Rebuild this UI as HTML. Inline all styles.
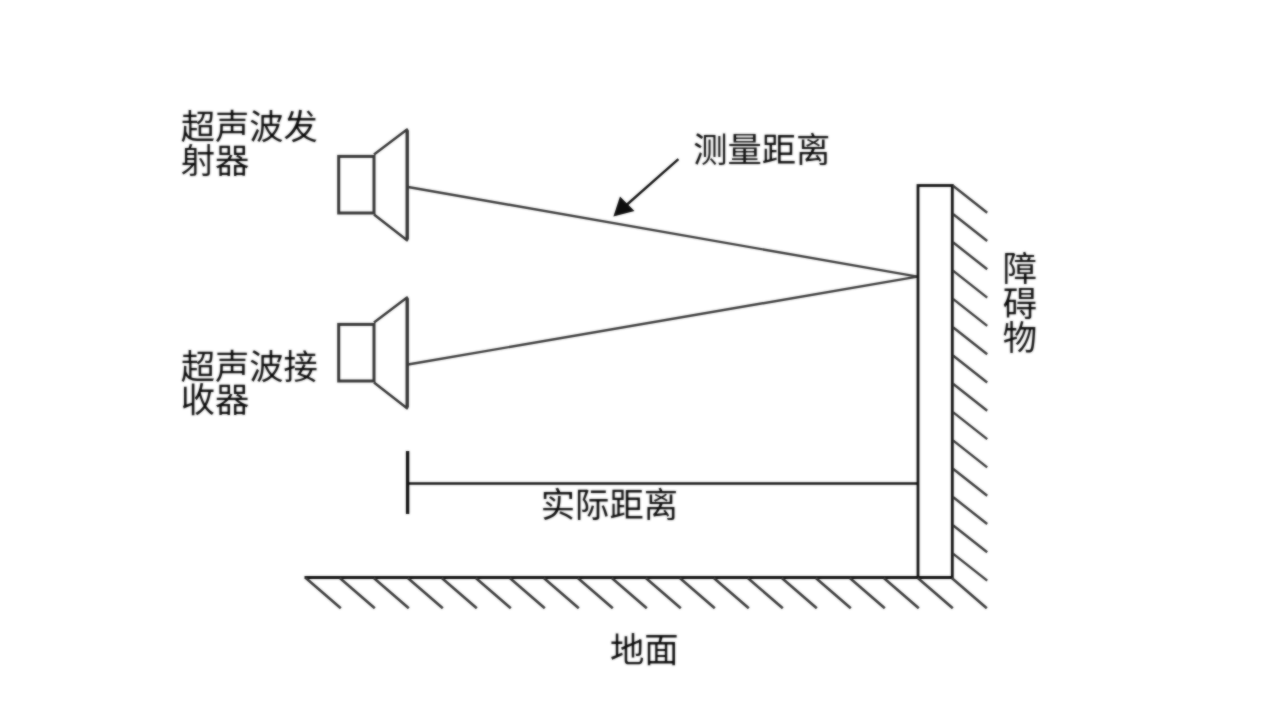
<!DOCTYPE html>
<html lang="zh-CN">
<head>
<meta charset="utf-8">
<title>超声波测距原理</title>
<style>
html,body{margin:0;padding:0;background:#fff;}
body{width:1281px;height:715px;overflow:hidden;font-family:"Liberation Sans","Noto Sans CJK SC",sans-serif;}
svg{display:block;position:absolute;left:0;top:0;}
svg text{font-family:"Liberation Sans","Noto Sans CJK SC",sans-serif;}
</style>
</head>
<body>
<svg xmlns="http://www.w3.org/2000/svg" width="1281" height="715" viewBox="0 0 1281 715">
<defs>
<filter id="soft" x="-5%" y="-5%" width="110%" height="110%" color-interpolation-filters="sRGB"><feGaussianBlur in="SourceGraphic" stdDeviation="0.9" result="b"/><feComposite in="b" in2="SourceGraphic" operator="arithmetic" k1="0" k2="0.6" k3="0.4" k4="0"/></filter>
<filter id="softt" x="-5%" y="-5%" width="110%" height="110%" color-interpolation-filters="sRGB"><feGaussianBlur in="SourceGraphic" stdDeviation="0.9" result="b"/><feComposite in="b" in2="SourceGraphic" operator="arithmetic" k1="0" k2="0.7" k3="0.3" k4="0"/></filter>
</defs>
<rect width="1281" height="715" fill="#fff"/>
<g filter="url(#soft)">
<g id="shapes" stroke-linecap="butt">
<rect x="338.7" y="156.4" width="35.3" height="56.6" fill="none" stroke="#343434" stroke-width="3.0"/>
<path d="M374 154.5 L407 129.5 L407 240.2 L374 214.5" fill="none" stroke="#343434" stroke-width="2.5" stroke-linejoin="round"/>
<line x1="407.3" y1="130.2" x2="407.3" y2="239.5" stroke="#343434" stroke-width="3.2"/>
<rect x="338.7" y="324.4" width="35.3" height="56.6" fill="none" stroke="#343434" stroke-width="3.0"/>
<path d="M374 322.5 L407 297.5 L407 408.2 L374 382.5" fill="none" stroke="#343434" stroke-width="2.5" stroke-linejoin="round"/>
<line x1="407.3" y1="298.2" x2="407.3" y2="407.5" stroke="#343434" stroke-width="3.2"/>
<line x1="408.0" y1="187.0" x2="917.5" y2="276.6" stroke="#383838" stroke-width="2.40"/>
<line x1="408.0" y1="364.5" x2="917.5" y2="276.6" stroke="#383838" stroke-width="2.40"/>
<rect x="918" y="185.5" width="34.3" height="392" fill="none" stroke="#101010" stroke-width="2.8"/>
<line x1="304.5" y1="577.5" x2="952.0" y2="577.5" stroke="#101010" stroke-width="3.20"/>
<line x1="407.6" y1="451.0" x2="407.6" y2="514.0" stroke="#101010" stroke-width="3.40"/>
<line x1="407.6" y1="483.5" x2="918.0" y2="483.5" stroke="#101010" stroke-width="2.70"/>
<line x1="953.0" y1="185.7" x2="987.2" y2="212.7" stroke="#383838" stroke-width="2.40"/>
<line x1="953.0" y1="214.0" x2="987.2" y2="241.0" stroke="#383838" stroke-width="2.40"/>
<line x1="953.0" y1="242.3" x2="987.2" y2="269.3" stroke="#383838" stroke-width="2.40"/>
<line x1="953.0" y1="270.6" x2="987.2" y2="297.6" stroke="#383838" stroke-width="2.40"/>
<line x1="953.0" y1="298.9" x2="987.2" y2="325.9" stroke="#383838" stroke-width="2.40"/>
<line x1="953.0" y1="327.2" x2="987.2" y2="354.2" stroke="#383838" stroke-width="2.40"/>
<line x1="953.0" y1="355.5" x2="987.2" y2="382.5" stroke="#383838" stroke-width="2.40"/>
<line x1="953.0" y1="383.8" x2="987.2" y2="410.8" stroke="#383838" stroke-width="2.40"/>
<line x1="953.0" y1="412.1" x2="987.2" y2="439.1" stroke="#383838" stroke-width="2.40"/>
<line x1="953.0" y1="440.4" x2="987.2" y2="467.4" stroke="#383838" stroke-width="2.40"/>
<line x1="953.0" y1="468.7" x2="987.2" y2="495.7" stroke="#383838" stroke-width="2.40"/>
<line x1="953.0" y1="497.0" x2="987.2" y2="524.0" stroke="#383838" stroke-width="2.40"/>
<line x1="953.0" y1="525.3" x2="987.2" y2="552.3" stroke="#383838" stroke-width="2.40"/>
<line x1="953.0" y1="553.6" x2="987.2" y2="580.6" stroke="#383838" stroke-width="2.40"/>
<line x1="305.8" y1="578.0" x2="340.8" y2="608.3" stroke="#383838" stroke-width="2.60"/>
<line x1="339.8" y1="578.0" x2="374.8" y2="608.3" stroke="#383838" stroke-width="2.60"/>
<line x1="373.8" y1="578.0" x2="408.8" y2="608.3" stroke="#383838" stroke-width="2.60"/>
<line x1="407.8" y1="578.0" x2="442.8" y2="608.3" stroke="#383838" stroke-width="2.60"/>
<line x1="441.8" y1="578.0" x2="476.8" y2="608.3" stroke="#383838" stroke-width="2.60"/>
<line x1="475.8" y1="578.0" x2="510.8" y2="608.3" stroke="#383838" stroke-width="2.60"/>
<line x1="509.8" y1="578.0" x2="544.8" y2="608.3" stroke="#383838" stroke-width="2.60"/>
<line x1="543.8" y1="578.0" x2="578.8" y2="608.3" stroke="#383838" stroke-width="2.60"/>
<line x1="577.8" y1="578.0" x2="612.8" y2="608.3" stroke="#383838" stroke-width="2.60"/>
<line x1="611.8" y1="578.0" x2="646.8" y2="608.3" stroke="#383838" stroke-width="2.60"/>
<line x1="645.8" y1="578.0" x2="680.8" y2="608.3" stroke="#383838" stroke-width="2.60"/>
<line x1="679.8" y1="578.0" x2="714.8" y2="608.3" stroke="#383838" stroke-width="2.60"/>
<line x1="713.8" y1="578.0" x2="748.8" y2="608.3" stroke="#383838" stroke-width="2.60"/>
<line x1="747.8" y1="578.0" x2="782.8" y2="608.3" stroke="#383838" stroke-width="2.60"/>
<line x1="781.8" y1="578.0" x2="816.8" y2="608.3" stroke="#383838" stroke-width="2.60"/>
<line x1="815.8" y1="578.0" x2="850.8" y2="608.3" stroke="#383838" stroke-width="2.60"/>
<line x1="849.8" y1="578.0" x2="884.8" y2="608.3" stroke="#383838" stroke-width="2.60"/>
<line x1="883.8" y1="578.0" x2="918.8" y2="608.3" stroke="#383838" stroke-width="2.60"/>
<line x1="917.8" y1="578.0" x2="952.8" y2="608.3" stroke="#383838" stroke-width="2.60"/>
<line x1="951.8" y1="578.0" x2="986.8" y2="608.3" stroke="#383838" stroke-width="2.60"/>
<line x1="678.4" y1="159.2" x2="622.0" y2="209.0" stroke="#101010" stroke-width="2.40"/>
<path d="M613.4 216.6 L620 196.5 L634.5 211 Z" fill="#0e0e0e"/>
</g>
</g>
<g filter="url(#softt)">
<g id="labels" fill="#060606" stroke="none" font-family="&quot;Liberation Sans&quot;,&quot;Noto Sans CJK SC&quot;,sans-serif" font-size="34.3">
<text x="180.7" y="139.1" textLength="137.2">超声波发</text>
<text x="180.7" y="173.4" textLength="68.6">射器</text>
<text x="180.7" y="379.1" textLength="137.2">超声波接</text>
<text x="180.7" y="412.4" textLength="68.6">收器</text>
<text x="693.2" y="161.9" textLength="137.2">测量距离</text>
<text x="540.8" y="516.9" textLength="137.2">实际距离</text>
<text x="610.0" y="661.9" textLength="68.6">地面</text>
<text x="1002.8" y="281.2">障</text>
<text x="1002.8" y="315.7">碍</text>
<text x="1002.8" y="350.2">物</text>
</g>
</g>
</svg>
</body>
</html>
